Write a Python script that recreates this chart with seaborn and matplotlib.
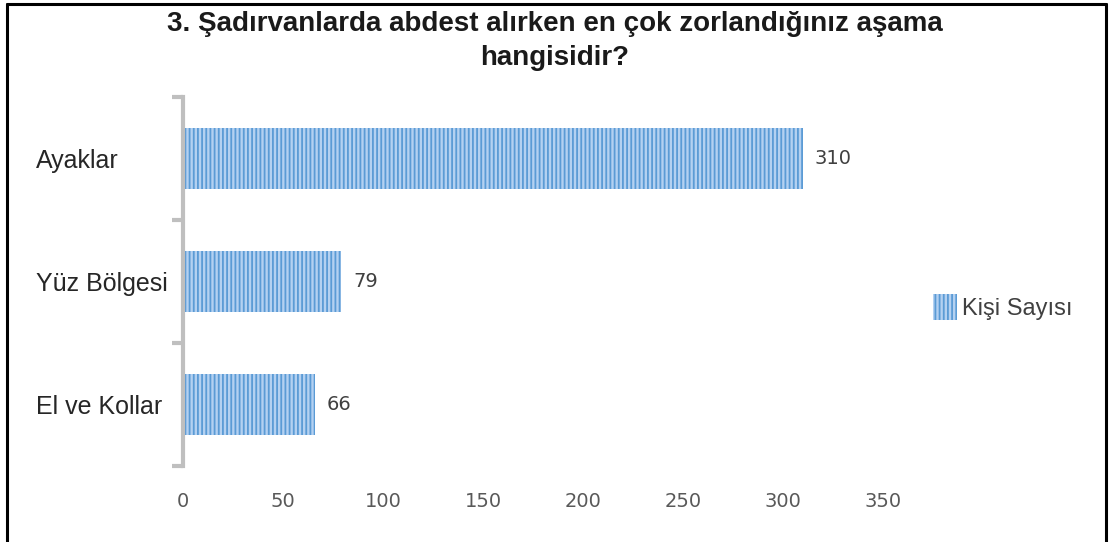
import numpy as np
import pandas as pd
import seaborn as sns
import matplotlib.pyplot as plt
from matplotlib.lines import Line2D
from matplotlib.patches import Patch

# === Data ===
categories = ["Ayaklar", "Yüz Bölgesi", "El ve Kollar"]
counts = [310, 79, 66]
x_ticks = [0, 50, 100, 150, 200, 250, 300, 350]
series_name = "Kişi Sayısı"
title = "3. Şadırvanlarda abdest alırken en çok zorlandığınız aşama\nhangisidir?"

df = pd.DataFrame({"kategori": categories, "sayi": counts})

sns.set_style("white")
plt.rcParams["font.family"] = ["Liberation Sans", "DejaVu Sans"]
plt.rcParams["hatch.color"] = "#5b9bd5"
plt.rcParams["hatch.linewidth"] = 1.3

fig = plt.figure(figsize=(11.13, 5.42), dpi=100)
ax = fig.add_axes([183 / 1113, 76 / 542, 700 / 1113, 369 / 542])

sns.barplot(data=df, x="sayi", y="kategori", orient="h", ax=ax,
            color="#b4d1f1", width=0.5, saturation=1)
for bar in ax.patches:
    bar.set_hatch("||||")
    bar.set_edgecolor("#5b9bd5")
    bar.set_linewidth(0)

# value labels
for i, v in enumerate(counts):
    ax.text(v + 6, i, str(v), va="center", ha="left", fontsize=14,
            color="#404040", family="DejaVu Sans")

ax.set_xlim(0, 350)
ax.set_ylim(2.5, -0.5)
ax.set_xticks(x_ticks)
ax.set_xticklabels([str(t) for t in x_ticks], fontsize=14, color="#595959",
                   family="DejaVu Sans")
ax.tick_params(axis="x", length=0, pad=19)
ax.set_yticks(range(len(categories)))
ax.set_yticklabels(categories, fontsize=18, color="#262626", ha="left")
ax.tick_params(axis="y", which="major", length=0, pad=106)
ax.set_yticks([-0.5, 0.5, 1.5, 2.5], minor=True)
ax.tick_params(axis="y", which="minor", left=True, length=8, width=3,
               color="#bfbfbf", direction="out")
ax.set_xlabel("")
ax.set_ylabel("")
for s in ["top", "right", "bottom"]:
    ax.spines[s].set_visible(False)
ax.spines["left"].set_color("#bfbfbf")
ax.spines["left"].set_linewidth(3)

fig.text(555 / 1113, 1 - 11 / 542, title, ha="center", va="top", fontsize=20,
         fontweight="bold", color="#1a1a1a", linespacing=1.4)

handle = Patch(facecolor="#b4d1f1", edgecolor="#5b9bd5", hatch="||||",
               linewidth=0)
fig.legend([handle], [series_name], loc="center left",
           bbox_to_anchor=(912 / 1113, 1 - 307 / 542), frameon=False,
           fontsize=17, handlelength=1.0, handleheight=1.3, handletextpad=0.2,
           labelcolor="#404040")

# outer frame (left, top, right)
for xs, ys in [([7, 7], [542, 4]), ([7, 1106], [4, 4]), ([1106, 1106], [4, 542])]:
    fig.add_artist(Line2D([x / 1113 for x in xs], [1 - y / 542 for y in ys],
                          transform=fig.transFigure, color="black", lw=2.2))

fig.savefig("out.png", dpi=100)
